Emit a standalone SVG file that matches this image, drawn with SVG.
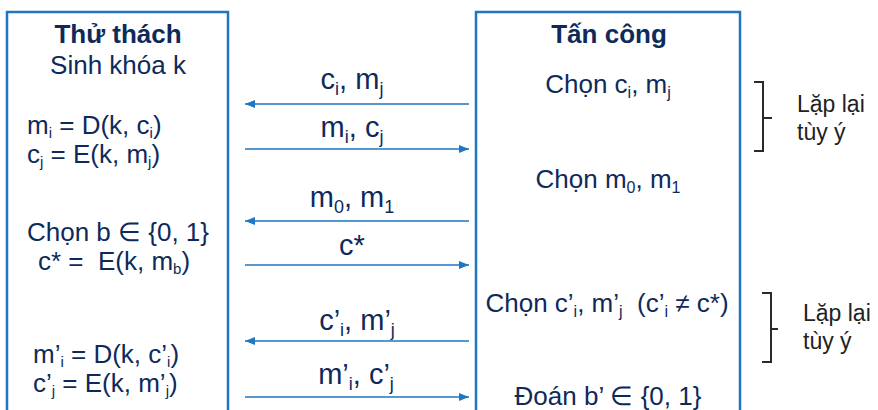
<svg xmlns="http://www.w3.org/2000/svg" width="878" height="410" viewBox="0 0 878 410">
<style>
.t{font-family:"Liberation Sans",Arial,sans-serif;fill:#0e2a5a;font-size:26px}
.b{font-weight:bold}
.lbl{font-size:29px}
.rep{font-size:23px;fill:#222}
.box{fill:#fff;stroke:#1f76c2;stroke-width:2.5}
.ar{stroke:#1f76c2;stroke-width:1.5;fill:none}
.br{stroke:#2a2a2a;stroke-width:2;fill:none}
</style>
<defs>
<marker id="ah" viewBox="0 0 10 8" refX="10" refY="4" markerWidth="10" markerHeight="8" markerUnits="userSpaceOnUse" orient="auto-start-reverse">
<path d="M0,0 L10,4 L0,8 Z" fill="#1f76c2"/>
</marker>
</defs>
<rect width="878" height="410" fill="#fff"/>
<g id="challenger">
<rect class="box" x="7" y="12" width="221" height="420"/>
<text class="t b" x="118" y="43" text-anchor="middle">Thử thách</text>
<text class="t" x="118" y="74" text-anchor="middle">Sinh khóa k</text>
<text class="t" x="27" y="134">m<tspan font-size="15" dy="4">i</tspan><tspan dy="-4"> = D(k, c</tspan><tspan font-size="15" dy="4">i</tspan><tspan dy="-4">)</tspan></text>
<text class="t" x="27" y="163">c<tspan font-size="15" dy="4">j</tspan><tspan dy="-4"> = E(k, m</tspan><tspan font-size="15" dy="4">j</tspan><tspan dy="-4">)</tspan></text>
<text class="t" x="118" y="241" text-anchor="middle">Chọn b ∈ {0, 1}</text>
<text class="t" x="38" y="270" style="white-space:pre">c* =  E(k, m<tspan font-size="15" dy="4">b</tspan><tspan dy="-4">)</tspan></text>
<text class="t" x="33" y="363">m’<tspan font-size="15" dy="4">i</tspan><tspan dy="-4"> = D(k, c’</tspan><tspan font-size="15" dy="4">i</tspan><tspan dy="-4">)</tspan></text>
<text class="t" x="33" y="392">c’<tspan font-size="15" dy="4">j</tspan><tspan dy="-4"> = E(k, m’</tspan><tspan font-size="15" dy="4">j</tspan><tspan dy="-4">)</tspan></text>
</g>
<g id="attacker">
<rect class="box" x="476" y="12" width="264" height="420"/>
<text class="t b" x="609" y="43" text-anchor="middle">Tấn công</text>
<text class="t" x="608" y="93" text-anchor="middle">Chọn c<tspan font-size="16" dy="5">i</tspan><tspan dy="-5">, m</tspan><tspan font-size="16" dy="5">j</tspan></text>
<text class="t" x="608" y="188" text-anchor="middle">Chọn m<tspan font-size="16" dy="5">0</tspan><tspan dy="-5">, m</tspan><tspan font-size="16" dy="5">1</tspan></text>
<text class="t" x="607" y="312" text-anchor="middle" style="white-space:pre">Chọn c’<tspan font-size="16" dy="5">i</tspan><tspan dy="-5">, m’</tspan><tspan font-size="16" dy="5">j</tspan><tspan dy="-5">  (c’</tspan><tspan font-size="16" dy="5">i</tspan><tspan dy="-5"> ≠ c*)</tspan></text>
<text class="t" x="608" y="405" text-anchor="middle">Đoán b’ ∈ {0, 1}</text>
</g>
<g id="connectors">
<line class="ar" x1="469" y1="104" x2="245" y2="104" marker-end="url(#ah)"/>
<line class="ar" x1="245" y1="149" x2="469" y2="149" marker-end="url(#ah)"/>
<line class="ar" x1="469" y1="221" x2="245" y2="221" marker-end="url(#ah)"/>
<line class="ar" x1="245" y1="265" x2="469" y2="265" marker-end="url(#ah)"/>
<line class="ar" x1="469" y1="341" x2="245" y2="341" marker-end="url(#ah)"/>
<line class="ar" x1="245" y1="397" x2="469" y2="397" marker-end="url(#ah)"/>
<text class="t lbl" x="352" y="89" text-anchor="middle">c<tspan font-size="18" dy="6">i</tspan><tspan dy="-6">,  m</tspan><tspan font-size="18" dy="6">j</tspan></text>
<text class="t lbl" x="352" y="137" text-anchor="middle">m<tspan font-size="18" dy="6">i</tspan><tspan dy="-6">, c</tspan><tspan font-size="18" dy="6">j</tspan></text>
<text class="t lbl" x="352" y="207" text-anchor="middle">m<tspan font-size="18" dy="6">0</tspan><tspan dy="-6">, m</tspan><tspan font-size="18" dy="6">1</tspan></text>
<text class="t lbl" x="352" y="255" text-anchor="middle">c*</text>
<text class="t lbl" x="357" y="330" text-anchor="middle">c’<tspan font-size="18" dy="6">i</tspan><tspan dy="-6">, m’</tspan><tspan font-size="18" dy="6">j</tspan></text>
<text class="t lbl" x="356" y="384" text-anchor="middle">m’<tspan font-size="18" dy="6">i</tspan><tspan dy="-6">, c’</tspan><tspan font-size="18" dy="6">j</tspan></text>
</g>
<g id="repeat1">
<path class="br" d="M754,82 H763 V151 H754 M763,118 H772"/>
<text class="t rep" x="797" y="112">Lặp lại</text>
<text class="t rep" x="797" y="140">tùy ý</text>
</g>
<g id="repeat2">
<path class="br" d="M762,293 H771 V362 H762 M771,329 H778"/>
<text class="t rep" x="803" y="321">Lặp lại</text>
<text class="t rep" x="803" y="349">tùy ý</text>
</g>
</svg>
